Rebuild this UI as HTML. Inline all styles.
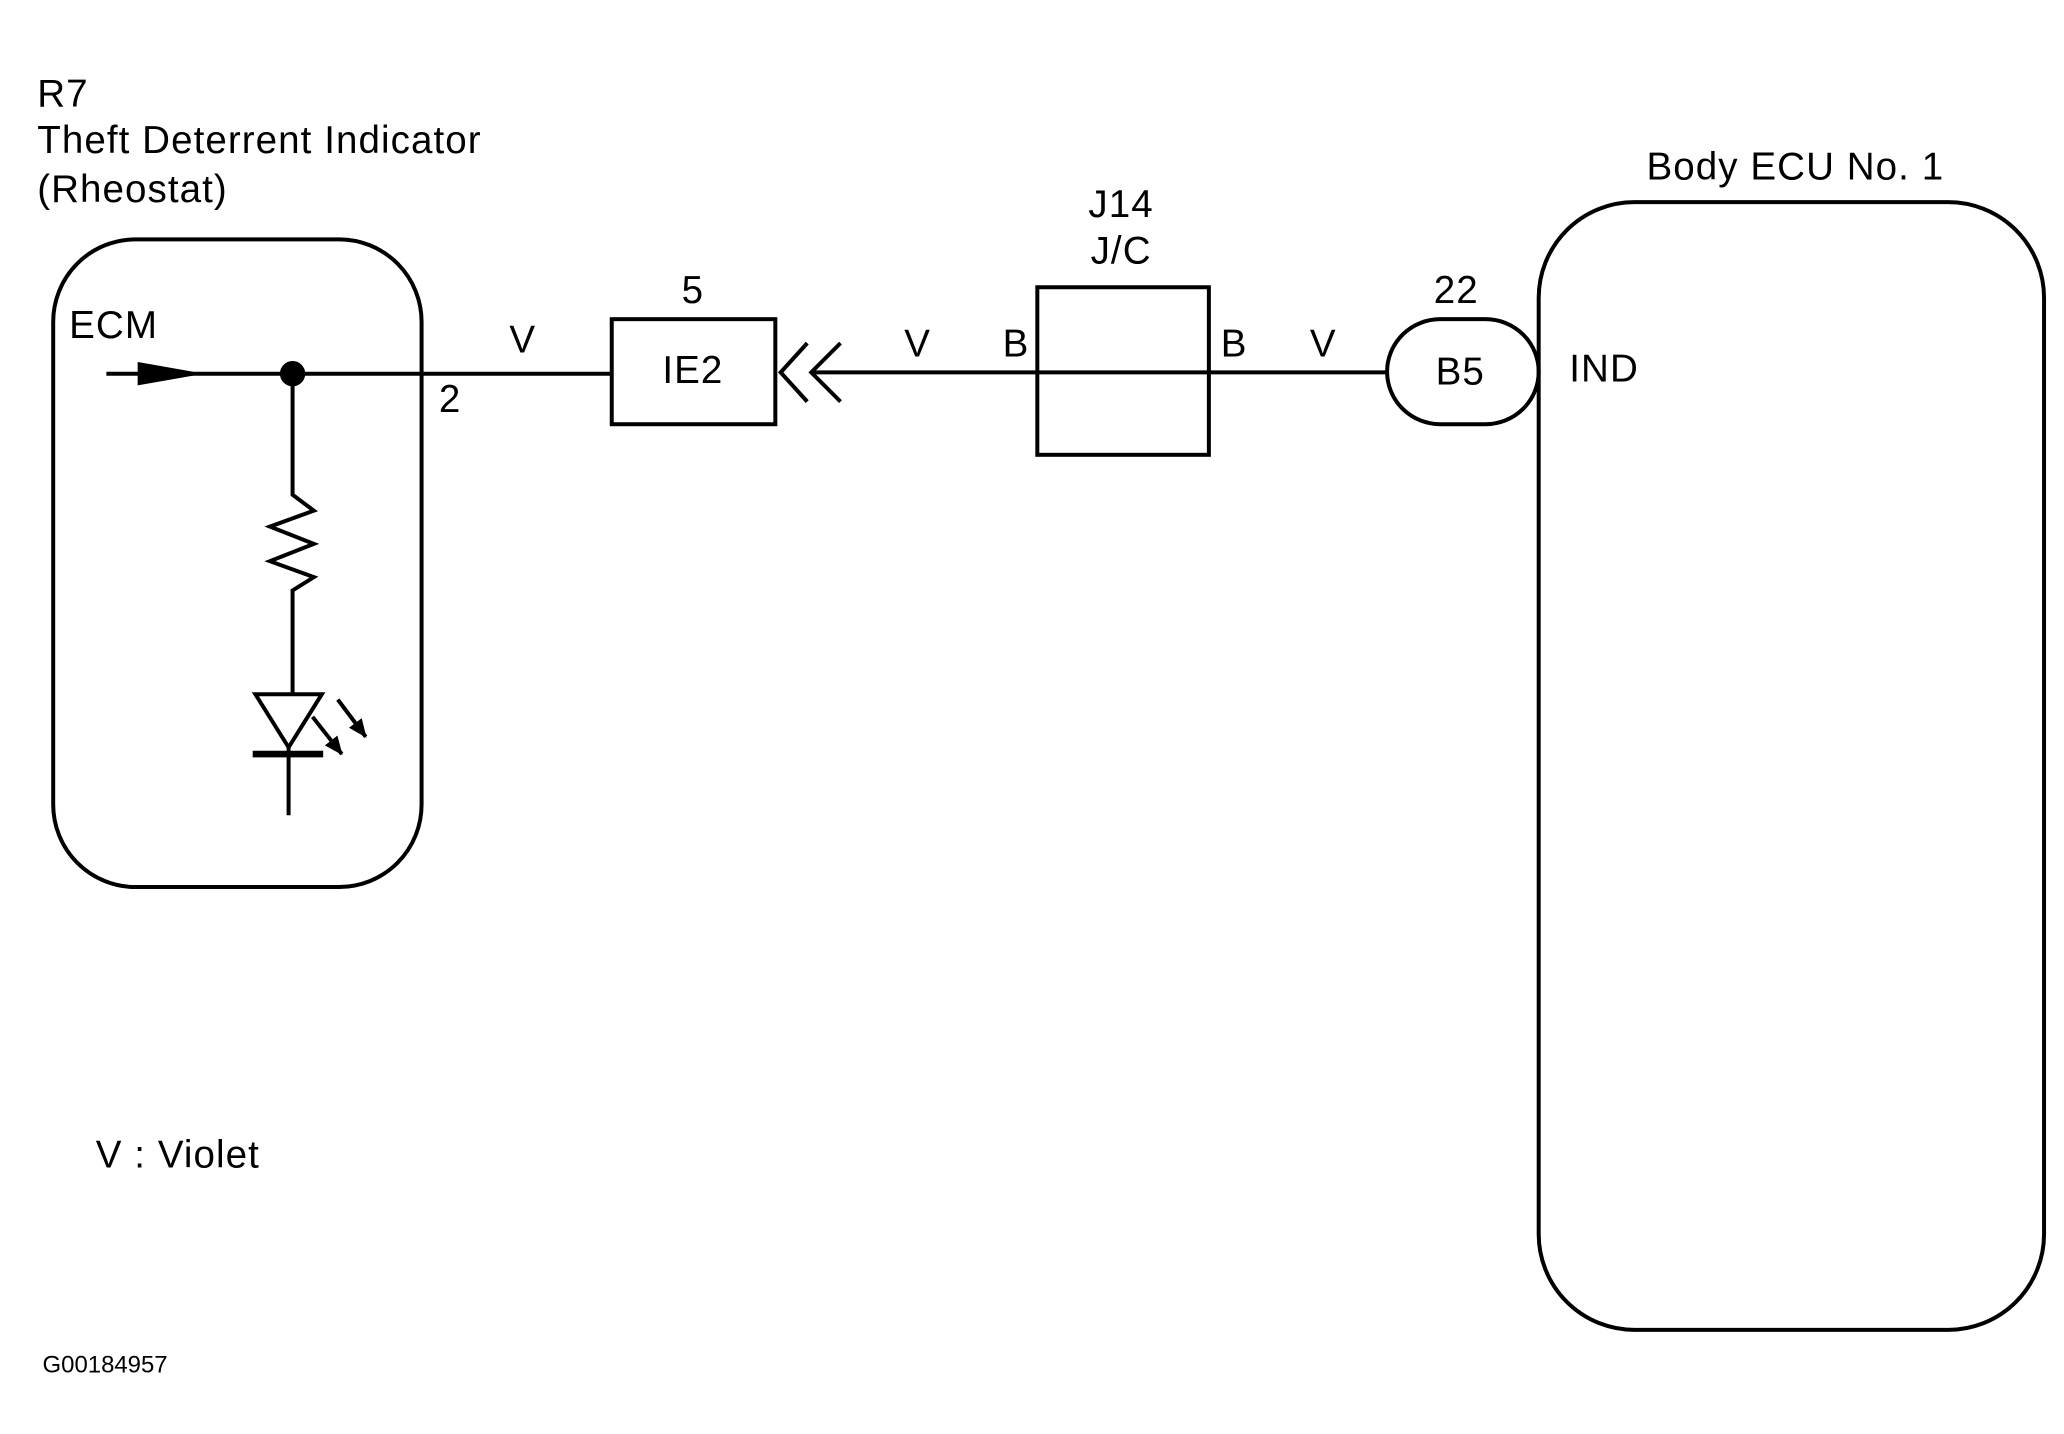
<!DOCTYPE html>
<html><head><style>html,body{margin:0;padding:0;background:#fff}svg{display:block}</style></head>
<body>
<svg width="2064" height="1434" viewBox="0 0 1552 1078.3" preserveAspectRatio="none" xmlns="http://www.w3.org/2000/svg" font-family="Liberation Sans, sans-serif" fill="none" stroke="#000" stroke-width="3">
<defs><marker id="a" markerWidth="14" markerHeight="14" refX="13" refY="7" orient="auto" markerUnits="userSpaceOnUse"><path d="M0,1 L14,7 L0,13z" fill="#000" stroke="none"/></marker></defs>
<g fill="#000" stroke="none" font-size="29" letter-spacing="0.8">
<text x="28" y="80">R7</text>
<text x="28" y="115">Theft Deterrent Indicator</text>
<text x="28" y="152">(Rheostat)</text>
<text x="52" y="254">ECM</text>
<text x="330" y="310">2</text>
<text x="383" y="265">V</text>
<text x="521" y="228" text-anchor="middle">5</text>
<text x="521" y="288" text-anchor="middle">IE2</text>
<text x="690" y="268" text-anchor="middle">V</text>
<text x="764" y="268" text-anchor="middle">B</text>
<text x="843" y="163" text-anchor="middle">J14</text>
<text x="843" y="198" text-anchor="middle">J/C</text>
<text x="928" y="268" text-anchor="middle">B</text>
<text x="995" y="268" text-anchor="middle">V</text>
<text x="1095" y="228" text-anchor="middle">22</text>
<text x="1098" y="289" text-anchor="middle">B5</text>
<text x="1350" y="135" text-anchor="middle">Body ECU No. 1</text>
<text x="1180" y="287">IND</text>
<text x="72" y="878">V : Violet</text>
<text x="32" y="1032" font-size="18" letter-spacing="0">G00184957</text>
</g>
<rect x="40" y="180" width="277" height="487" rx="62"/>
<rect x="1157" y="152" width="380" height="848" rx="72"/>
<path d="M80,281 L142,281"/>
<path d="M105,274 L145,281 L105,288z" fill="#000"/>
<path d="M142,281 L460,281"/>
<circle cx="220" cy="281" r="8" fill="#000"/>
<rect x="460" y="240" width="123" height="79"/>
<path d="M607,258 L587,280 L607,302 M632,258 L610,280 L632,302"/>
<path d="M610,280 L1043,280"/>
<rect x="780" y="216" width="129" height="126"/>
<rect x="1043" y="240" width="114" height="79" rx="40"/>
<path d="M220,281 L220,372 L236,384 L203,396 L236,409 L203,422 L236,434 L220,444 L220,522"/>
<path d="M192,522 L242,522 L217,562z M217,562 L217,613"/>
<path d="M190,567 L243,567" stroke-width="5"/>
<path d="M235,539 L257,567" marker-end="url(#a)"/>
<path d="M254,526 L275,554" marker-end="url(#a)"/>
</svg>
</body></html>
